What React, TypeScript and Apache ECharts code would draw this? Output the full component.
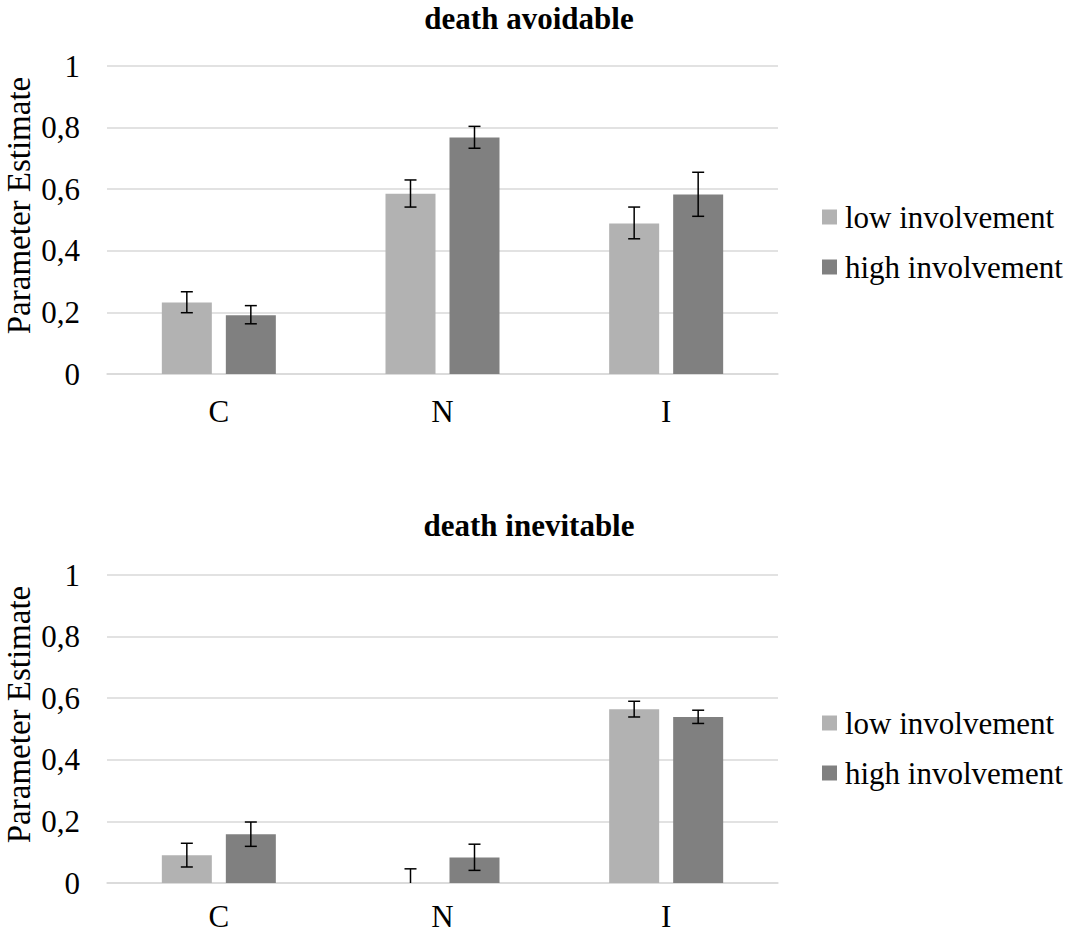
import React, { useEffect, useRef } from 'react';
import * as echarts from 'echarts';

const categories = ['C', 'N', 'I'];
const seriesNames = ['low involvement', 'high involvement'];
const yTickLabels = ['0', '0,2', '0,4', '0,6', '0,8', '1'];
const titles = ['death avoidable', 'death inevitable'];
const yAxisTitle = 'Parameter Estimate';

// death avoidable
const avoidableLow = [0.232, 0.585, 0.489];
const avoidableLowErr = [[0.199, 0.267], [0.542, 0.630], [0.439, 0.542]];
const avoidableHigh = [0.191, 0.768, 0.583];
const avoidableHighErr = [[0.163, 0.222], [0.733, 0.804], [0.512, 0.655]];

// death inevitable
const inevitableLow = [0.090, 0, 0.564];
const inevitableLowErr = [[0.052, 0.129], [-0.046, 0.046], [0.539, 0.590]];
const inevitableHigh = [0.158, 0.083, 0.539];
const inevitableHighErr = [[0.119, 0.198], [0.041, 0.126], [0.518, 0.561]];

const FONT = "'Liberation Serif', 'Times New Roman', serif";
const LOW_COLOR = '#b2b2b2';
const HIGH_COLOR = '#808080';
const GRID_COLOR = '#d9d9d9';
const BAR_WIDTH = 50;
const BAR_GAP = 0.28;

export default function App() {
  const ref = useRef<HTMLDivElement>(null);

  useEffect(() => {
    if (!ref.current) return;
    const chart = echarts.init(ref.current, undefined, { renderer: 'svg' });

    const gridTops = [66, 575];
    const gridHeight = 308;

    const errorSeries = (bounds: number[][], side: number, idx: number) => ({
      type: 'custom',
      name: 'err' + idx + side,
      xAxisIndex: idx,
      yAxisIndex: idx,
      z: 10,
      silent: true,
      data: bounds.map((b, i) => [i, b[0], b[1]]),
      encode: { x: 0, y: [1, 2] },
      renderItem: (params: any, api: any) => {
        const i = api.value(0);
        const lo = api.value(1);
        const hi = api.value(2);
        const top = api.coord([i, hi]);
        const bot = api.coord([i, Math.max(lo, 0)]);
        const x = top[0] + side * (BAR_WIDTH * (1 + BAR_GAP)) / 2;
        const st = { stroke: '#000', lineWidth: 1.5 };
        const children: any[] = [
          { type: 'line', shape: { x1: x, y1: top[1], x2: x, y2: bot[1] }, style: st },
          { type: 'line', shape: { x1: x - 6, y1: top[1], x2: x + 6, y2: top[1] }, style: st },
        ];
        if (lo >= 0) {
          children.push({ type: 'line', shape: { x1: x - 6, y1: bot[1], x2: x + 6, y2: bot[1] }, style: st });
        }
        return { type: 'group', children };
      },
    });

    const barSeries = (name: string, data: number[], color: string, idx: number) => ({
      type: 'bar',
      name,
      xAxisIndex: idx,
      yAxisIndex: idx,
      data,
      barWidth: BAR_WIDTH,
      barGap: BAR_GAP * 100 + '%',
      itemStyle: { color },
      silent: true,
    });

    const option: any = {
      animation: false,
      backgroundColor: '#fff',
      title: titles.map((t, i) => ({
        text: t,
        left: 529,
        top: i === 0 ? 3 : 510,
        textAlign: 'center',
        padding: 0,
        textStyle: { fontFamily: FONT, fontSize: 31, fontWeight: 'bold', color: '#000', lineHeight: 31 },
      })),
      legend: gridTops.map((gt, i) => ({
        orient: 'vertical',
        left: 817,
        top: i === 0 ? 195 : 701,
        itemWidth: 15,
        itemHeight: 15,
        itemGap: 16,
        icon: 'rect',
        selectedMode: false,
        data: seriesNames,
        textStyle: { fontFamily: FONT, fontSize: 31, color: '#000', lineHeight: 34, padding: [0, 0, 0, 3] },
      })),
      grid: gridTops.map((gt) => ({ left: 107, width: 671, top: gt, height: gridHeight })),
      xAxis: gridTops.map((_, i) => ({
        type: 'category',
        gridIndex: i,
        data: categories,
        axisLine: { lineStyle: { color: GRID_COLOR, width: 1.5 } },
        axisTick: { show: false },
        axisLabel: { fontFamily: FONT, fontSize: 31, color: '#000', margin: i === 0 ? 26 : 22, lineHeight: 22 },
      })),
      yAxis: gridTops.map((_, i) => ({
        type: 'value',
        gridIndex: i,
        min: 0,
        max: 1,
        interval: 0.2,
        axisLine: { show: false },
        axisTick: { show: false },
        splitLine: { lineStyle: { color: GRID_COLOR, width: 1.5 } },
        axisLabel: {
          fontFamily: FONT,
          fontSize: 31,
          color: '#000',
          margin: 27,
          formatter: (_v: number, idx: number) => yTickLabels[idx],
        },
      })),
      graphic: gridTops.map((gt) => ({
        type: 'text',
        x: 18.5,
        y: gt + gridHeight / 2 - 14.5,
        rotation: Math.PI / 2,
        style: {
          text: yAxisTitle,
          fontFamily: FONT,
          fontSize: 33,
          fill: '#000',
          align: 'center',
          verticalAlign: 'middle',
        },
      })),
      series: [
        barSeries(seriesNames[0], avoidableLow, LOW_COLOR, 0),
        barSeries(seriesNames[1], avoidableHigh, HIGH_COLOR, 0),
        barSeries(seriesNames[0], inevitableLow, LOW_COLOR, 1),
        barSeries(seriesNames[1], inevitableHigh, HIGH_COLOR, 1),
        errorSeries(avoidableLowErr, -1, 0),
        errorSeries(avoidableHighErr, 1, 0),
        errorSeries(inevitableLowErr, -1, 1),
        errorSeries(inevitableHighErr, 1, 1),
      ],
    };

    chart.setOption(option);
    return () => chart.dispose();
  }, []);

  return (
    <div
      ref={ref}
      style={{ position: 'absolute', left: 0, top: 0, width: 1069, height: 935, background: '#fff' }}
    />
  );
}
